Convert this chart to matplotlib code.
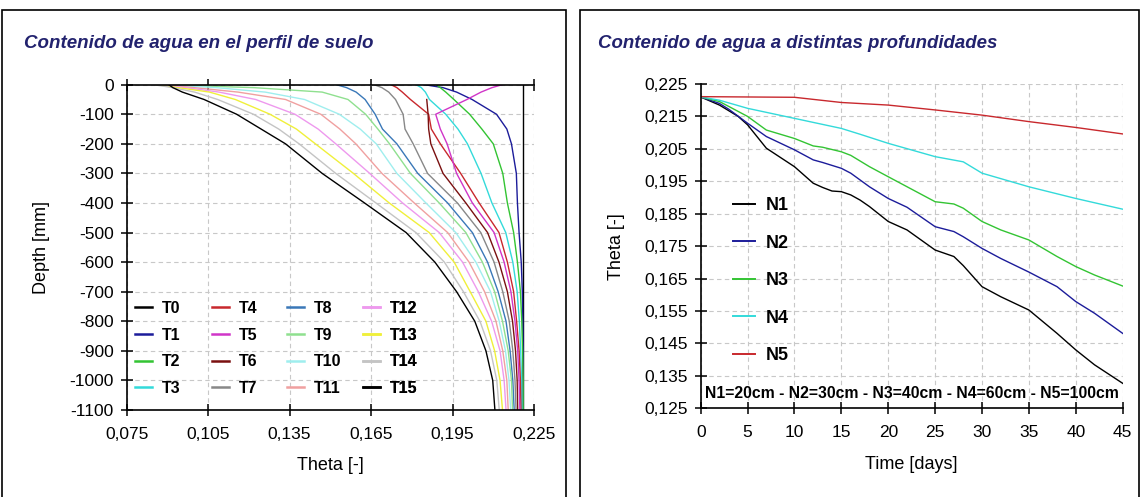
import numpy as np
import matplotlib
matplotlib.use('Agg')
import matplotlib.pyplot as plt
from matplotlib.patches import Rectangle
from matplotlib.ticker import FuncFormatter

plt.rcParams['font.family'] = ['Liberation Sans', 'DejaVu Sans']
plt.rcParams['axes.unicode_minus'] = False

# ---- left chart: theta profiles vs depth ----
depth = [0, -10, -25, -50, -100, -150, -200, -300, -400, -500, -600, -700, -800, -900, -1000, -1100]

T0 = [0.221] * 16
T1 = [0.1847, 0.1915, 0.1965, 0.2022, 0.2112, 0.2150, 0.2167, 0.2185, 0.2189, 0.2195, 0.2203, 0.2207, 0.2209, 0.2210, 0.2210, 0.2210]
T2 = [0.1890, 0.1905, 0.1925, 0.1955, 0.2013, 0.2058, 0.2100, 0.2135, 0.2152, 0.2175, 0.2189, 0.2200, 0.2205, 0.2208, 0.2210, 0.2210]
T3 = [0.1816, 0.1835, 0.1850, 0.1865, 0.1925, 0.1970, 0.2005, 0.2055, 0.2095, 0.2146, 0.2172, 0.2188, 0.2196, 0.2201, 0.2204, 0.2205]
T4 = [0.1724, 0.1745, 0.1765, 0.1795, 0.1862, 0.1872, 0.1905, 0.1980, 0.2048, 0.2121, 0.2152, 0.2175, 0.2186, 0.2195, 0.2200, 0.2202]
T5 = [0.2133, 0.2095, 0.2055, 0.2003, 0.1888, 0.1905, 0.1930, 0.1965, 0.2023, 0.2103, 0.2140, 0.2165, 0.2180, 0.2190, 0.2195, 0.2198]
T6 = [np.nan, np.nan, np.nan, 0.1855, 0.1860, 0.1862, 0.1870, 0.1915, 0.1999, 0.2079, 0.2121, 0.2152, 0.2171, 0.2182, 0.2188, 0.2190]
T7 = [0.1662, 0.1690, 0.1715, 0.1740, 0.1768, 0.1775, 0.1805, 0.1858, 0.1968, 0.2054, 0.2103, 0.2135, 0.2159, 0.2172, 0.2180, 0.2184]
T8 = [0.1523, 0.1560, 0.1595, 0.1628, 0.1665, 0.1692, 0.1745, 0.1822, 0.1932, 0.2023, 0.2079, 0.2118, 0.2147, 0.2162, 0.2172, 0.2177]
T9 = [0.0880, 0.1220, 0.1470, 0.1565, 0.1630, 0.1675, 0.1718, 0.1795, 0.1901, 0.1999, 0.2060, 0.2105, 0.2134, 0.2155, 0.2167, 0.2171]
T10 = [0.0890, 0.1080, 0.1260, 0.1405, 0.1533, 0.1610, 0.1669, 0.1745, 0.1852, 0.1962, 0.2036, 0.2090, 0.2122, 0.2145, 0.2158, 0.2164]
T11 = [0.0880, 0.1000, 0.1160, 0.1335, 0.1465, 0.1535, 0.1594, 0.1690, 0.1809, 0.1932, 0.2011, 0.2068, 0.2110, 0.2135, 0.2150, 0.2155]
T12 = [0.0870, 0.0970, 0.1090, 0.1225, 0.1370, 0.1455, 0.1520, 0.1645, 0.1766, 0.1901, 0.1987, 0.2045, 0.2094, 0.2125, 0.2140, 0.2147]
T13 = [0.0860, 0.0940, 0.1055, 0.1150, 0.1278, 0.1375, 0.1445, 0.1585, 0.1717, 0.1864, 0.1956, 0.2015, 0.2073, 0.2105, 0.2125, 0.2134]
T14 = [0.0850, 0.0920, 0.1000, 0.1085, 0.1217, 0.1310, 0.1385, 0.1520, 0.1668, 0.1815, 0.1920, 0.1990, 0.2051, 0.2090, 0.2113, 0.2122]
T15 = [0.0905, 0.0920, 0.0955, 0.1035, 0.1155, 0.1245, 0.1335, 0.1470, 0.1626, 0.1779, 0.1885, 0.1965, 0.2032, 0.2073, 0.2098, 0.2106]

profiles = [T0, T1, T2, T3, T4, T5, T6, T7, T8, T9, T10, T11, T12, T13, T14, T15]
profile_names = ['T%d' % i for i in range(16)]
profile_colors = ['#000000', '#1c1c9a', '#33c433', '#33dada', '#c8282d', '#d035c8', '#7a1010', '#888888',
                  '#3a78b8', '#8fe08f', '#9feeee', '#f0a0a0', '#ee99ee', '#f0f03a', '#c4c4c4', '#000000']

# ---- right chart: theta vs time ----
n1_t = [0, 2, 4, 5, 7, 10, 12, 13, 14, 15, 16, 17, 18, 20, 22, 25, 27, 28, 30, 32, 35, 38, 40, 42, 45]
n1_v = [0.221, 0.2185, 0.215, 0.2124, 0.2052, 0.1995, 0.1944, 0.1931, 0.1920, 0.1918, 0.1908, 0.1892, 0.1872,
        0.1826, 0.1800, 0.1738, 0.1718, 0.1690, 0.1625, 0.1594, 0.1553, 0.1481, 0.1430, 0.1384, 0.1327]
n2_t = [0, 2, 3, 5, 7, 10, 12, 13, 15, 16, 18, 20, 22, 25, 27, 28, 30, 32, 35, 38, 40, 42, 45]
n2_v = [0.221, 0.2190, 0.2172, 0.2129, 0.2088, 0.2047, 0.2016, 0.2008, 0.1990, 0.1975, 0.1933, 0.1897, 0.1870,
        0.1810, 0.1795, 0.1779, 0.1743, 0.1712, 0.1670, 0.1625, 0.1579, 0.1543, 0.1481]
n3_t = [0, 2, 5, 7, 10, 12, 13, 15, 16, 18, 20, 25, 27, 28, 30, 32, 35, 38, 40, 42, 45]
n3_v = [0.221, 0.2196, 0.2150, 0.2108, 0.2082, 0.2059, 0.2055, 0.2041, 0.2030, 0.1995, 0.1964, 0.1887, 0.1880,
        0.1867, 0.1826, 0.1800, 0.1769, 0.1718, 0.1687, 0.1661, 0.1627]
n4_t = [0, 2, 5, 10, 15, 17, 20, 25, 28, 30, 35, 40, 45]
n4_v = [0.221, 0.2200, 0.2175, 0.2144, 0.2113, 0.2095, 0.2067, 0.2026, 0.2010, 0.1975, 0.1933, 0.1897, 0.1864]
n5_t = [0, 5, 10, 15, 20, 25, 30, 35, 40, 45]
n5_v = [0.2211, 0.2210, 0.2209, 0.2193, 0.2185, 0.2170, 0.2154, 0.2134, 0.2116, 0.2096]

depth_series = [(n1_t, n1_v, 'N1', '#000000'), (n2_t, n2_v, 'N2', '#1c1c9a'), (n3_t, n3_v, 'N3', '#33c433'),
                (n4_t, n4_v, 'N4', '#33dada'), (n5_t, n5_v, 'N5', '#c8282d')]

title_color = '#22226e'
grid_color = '#c8c8c8'
W, H = 1141, 497

fig = plt.figure(figsize=(W / 100, H / 100), dpi=100)

# panel frames
fig.patches.append(Rectangle((2 / W, -0.01), 564 / W, 1 - 10 / H + 0.01, transform=fig.transFigure,
                             fill=False, edgecolor='black', linewidth=1.2))
fig.patches.append(Rectangle((580 / W, -0.01), 559 / W, 1 - 10 / H + 0.01, transform=fig.transFigure,
                             fill=False, edgecolor='black', linewidth=1.2))

fig.text(24 / W, 1 - 44 / H, 'Contenido de agua en el perfil de suelo', color=title_color,
         fontsize=13.5, fontweight='bold', fontstyle='italic', va='center', ha='left')
fig.text(598 / W, 1 - 44 / H, 'Contenido de agua a distintas profundidades', color=title_color,
         fontsize=13.4, fontweight='bold', fontstyle='italic', va='center', ha='left')

comma3 = FuncFormatter(lambda v, p: ('%.3f' % v).replace('.', ','))

# ---- left axes ----
L1, R1, T1p, B1 = 126.7, 534.0, 84.7, 410.0
ax1 = fig.add_axes([L1 / W, 1 - B1 / H, (R1 - L1) / W, (B1 - T1p) / H])
lines1 = []
for vals, name, col in zip(profiles, profile_names, profile_colors):
    ln, = ax1.plot(vals, depth, color=col, lw=1.0, label=name)
    lines1.append(ln)
ax1.set_xlim(0.075, 0.225)
ax1.set_ylim(-1100, 0)
ax1.set_xticks(np.arange(0.075, 0.2251, 0.03))
ax1.set_yticks(np.arange(-1100, 1, 100))
ax1.xaxis.set_major_formatter(comma3)
ax1.set_xlabel('Theta [-]', fontsize=13, labelpad=11)
ax1.set_ylabel('Depth [mm]', fontsize=13, labelpad=14)
ax1.spines['right'].set_visible(False)
ax1.tick_params(direction='inout', length=8.5, width=1.1, labelsize=12.5, top=True)
ax1.tick_params(axis='x', pad=8)
ax1.tick_params(axis='y', pad=5)
ax1.grid(True, color=grid_color, linestyle=(0, (4, 3)), linewidth=0.8)
for s in ['left', 'bottom', 'top']:
    ax1.spines[s].set_linewidth(1.2)

# legend: four columns placed at the reference column positions
col_x = [135, 212, 287, 363]
for c in range(4):
    hs = lines1[c * 4:(c + 1) * 4]
    leg = ax1.legend(hs, [h.get_label() for h in hs], loc='upper left',
                     bbox_to_anchor=((col_x[c] - L1) / (R1 - L1), (B1 - 301) / (B1 - T1p)),
                     frameon=False, borderpad=0, borderaxespad=0,
                     prop={'weight': 'bold', 'size': 11.5}, handlelength=1.06, handletextpad=0.6,
                     labelspacing=0.73)
    for ln in leg.get_lines():
        ln.set_linewidth(1.8)
    ax1.add_artist(leg)

# ---- right axes ----
L2, R2, T2p, B2 = 700.7, 1122.7, 84.0, 408.3
ax2 = fig.add_axes([L2 / W, 1 - B2 / H, (R2 - L2) / W, (B2 - T2p) / H])
for t, v, name, col in depth_series:
    ax2.plot(t, v, color=col, lw=1.0, label=name)
ax2.set_xlim(0, 45)
ax2.set_ylim(0.125, 0.225)
ax2.set_xticks(np.arange(0, 46, 5))
ax2.set_yticks(np.arange(0.125, 0.2251, 0.01))
ax2.yaxis.set_major_formatter(comma3)
ax2.set_xlabel('Time [days]', fontsize=13, labelpad=11)
ax2.set_ylabel('Theta [-]', fontsize=13, labelpad=14)
ax2.spines['right'].set_visible(False)
ax2.spines['top'].set_visible(False)
ax2.tick_params(direction='inout', length=8.5, width=1.1, labelsize=12.5)
ax2.tick_params(axis='x', pad=8)
ax2.tick_params(axis='y', pad=5)
ax2.grid(True, color=grid_color, linestyle=(0, (4, 3)), linewidth=0.8)
for s in ['left', 'bottom']:
    ax2.spines[s].set_linewidth(1.2)
leg2 = ax2.legend(loc='upper left', bbox_to_anchor=((733 - L2) / (R2 - L2), (B2 - 197) / (B2 - T2p)),
                  frameon=False, borderpad=0, borderaxespad=0,
                  prop={'weight': 'bold', 'size': 13}, handlelength=1.22, handletextpad=0.6,
                  labelspacing=1.14)
for ln in leg2.get_lines():
    ln.set_linewidth(1.4)
ax2.text(0.5, (B2 - 394) / (B2 - T2p), 'N1=20cm - N2=30cm - N3=40cm - N4=60cm - N5=100cm',
         transform=ax2.transAxes, ha='center', va='center', fontsize=11.3, fontweight='bold')

fig.savefig('out.png', dpi=100)
